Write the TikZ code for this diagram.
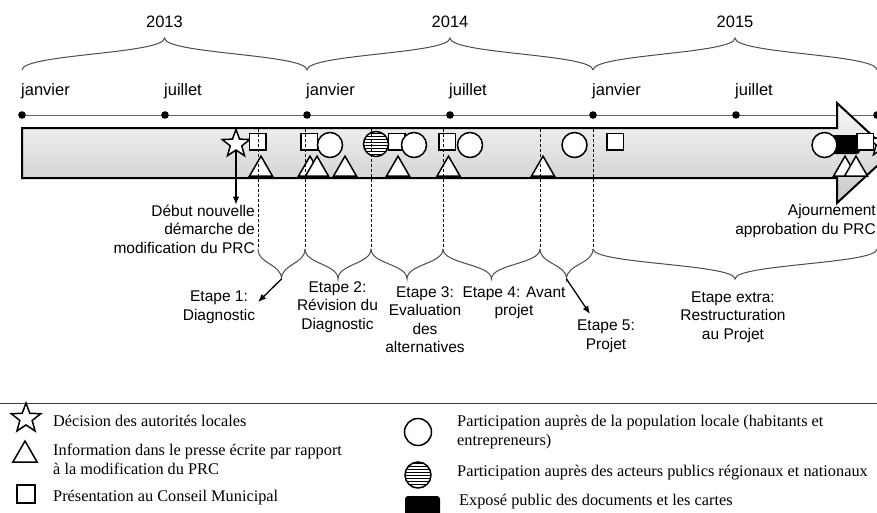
\documentclass[tikz,border=0pt]{standalone}
\usepackage{fontspec}
\setmainfont{Liberation Sans}
\newfontfamily\legendfont{Liberation Serif}
\usetikzlibrary{shapes.geometric,patterns,arrows.meta}

\tikzset{
  sym/.style={draw=black,line width=1.5pt,fill=white,inner sep=0pt},
  sq/.style={sym,rectangle,minimum size=16.5pt},
  circ/.style={sym,circle,minimum size=25pt},
  hcirc/.style={circ,fill=none,preaction={fill=white},pattern=horizontal lines},
  tri/.style={sym,regular polygon,regular polygon sides=3,minimum size=26.5pt},
  decision/.style={sym,star,star points=5,star point ratio=2.4,minimum size=29pt},
  phase/.style={dash pattern=on 3pt off 2pt,line width=1pt},
  brc/.style={draw=black!70,line width=1pt},
  lbl/.style={align=center,inner sep=0pt},
  arr/.style={-{Latex[length=8pt,width=6.5pt]},line width=1.3pt},
  leg/.style={inner sep=0pt,align=left,font=\legendfont\fontsize{16.3}{19}\selectfont},
}

\begin{document}
\begin{tikzpicture}[x=1pt,y=-1pt,font=\fontsize{15.5}{18.5}\selectfont]
\path[use as bounding box,clip] (0,0) rectangle (877,512);

% years
\foreach \a/\b/\yr in {22/307/2013,307/593/2014,593/877/2015}{
  \pgfmathsetmacro\m{(\a+\b)/2}
  \draw[brc] (\a,70) .. controls (\a,54) and (\m,54) .. (\m,38)
     .. controls (\m,54) and (\b,54) .. (\b,70);
  \node[anchor=base,inner sep=0pt,font=\fontsize{16.5}{19}\selectfont] (y\yr) at (\m,27) {\yr};
}

% months
\draw[black!60,line width=1pt] (22,115) -- (877,115);
\foreach \x/\mo [count=\i] in {22/janvier,165/juillet,307/janvier,450/juillet,593/janvier,736/juillet}{
  \fill (\x,115) circle (3.8);
  \node[anchor=base west,inner sep=0pt,font=\fontsize{16.5}{19}\selectfont] (m\i) at (\x-1,95) {\mo};
}
\fill (877,115) circle (3.8);

% bar
\draw[line width=2pt,top color=gray!5,bottom color=gray!42]
  (22,128) -- (837,128) -- (837,103) -- (891,153) -- (837,203) -- (837,178) -- (22,178) -- cycle;

% events
\node[fill=black,rounded corners=3pt,minimum width=28pt,minimum height=19pt,inner sep=0pt] (expo) at (846,144.5) {};
\node[decision] (s1) at (236,144) {};
\node[decision] (s2) at (882,143) {};
\foreach \x [count=\i] in {257.5,309,396.5,447,615,865}
  \node[sq] (c\i) at (\x,141.5) {};
\foreach \x [count=\i] in {330,414,470,574.5,824.5}
  \node[circ] (p\i) at (\x,145) {};
\node[hcirc] (h1) at (376,144) {};
\foreach \x [count=\i] in {261,310,317,345,398,448.5,543,845,856}
  \node[tri] (n\i) at (\x,169.4) {};

% phases
\foreach \x in {258,305,371,443,540,593}
  \draw[phase] (\x,129) -- (\x,249);
\foreach \a/\b [count=\i] in {258/305,305/371,371/443,443/540,540/593,593/877}{
  \pgfmathsetmacro\m{(\a+\b)/2}
  \draw[brc] (\a,249) .. controls (\a,264) and (\m,264) .. (\m,279)
     .. controls (\m,264) and (\b,264) .. (\b,249);
  \coordinate (t\i) at (\m,279);
}

\node[lbl,align=right,anchor=east] (debut) at (255,229) {Début nouvelle\\démarche de\\modification du PRC};
\node[lbl,align=right,anchor=east] (ajourn) at (876,221) {Ajournement\\approbation du PRC};
\node[lbl] (e1) at (219,307.5) {Etape 1:\\Diagnostic};
\node[lbl] (e2) at (337.5,307) {Etape 2:\\Révision du\\Diagnostic};
\node[lbl] (e3) at (425,319.5) {Etape 3:\\Evaluation\\des\\alternatives};
\node[lbl] (e4) at (514,303) {Etape 4: Avant\\projet};
\node[lbl] (e5) at (606,336.5) {Etape 5:\\Projet};
\node[lbl] (ex) at (733,317) {Etape extra:\\Restructuration\\au Projet};

\coordinate (a1) at (258,302);
\coordinate (a5) at (590,314);
\coordinate (aj) at (881,199);
\draw[arr] (s1.south) -- (s1.south |- debut.north);
\draw[arr] (s2.south) -- (aj);
\draw[arr] (t1) -- (a1);
\draw[arr] (t5) -- (a5);

% legend
\draw[black!75,line width=1pt] (0,403) -- (877,403);
\node[decision,minimum size=31pt] (ls) at (26,418.5) {};
\node[tri,minimum size=28pt] (lt) at (25,455) {};
\node[sq,minimum size=18pt] (lq) at (26,494) {};
\node[circ,minimum size=27pt] (lc) at (418,432) {};
\node[hcirc,minimum size=26pt] (lh) at (418,475) {};
\node[fill=black,rounded corners=3pt,minimum width=35pt,minimum height=24pt,inner sep=0pt] (lx) at (422.5,508) {};

\node[leg,anchor=base west] (ts) at (53,426) {Décision des autorités locales};
\node[leg,anchor=west] (tt) at (53,459.5) {Information dans le presse écrite par rapport\\à la modification du PRC};
\node[leg,anchor=base west] (tq) at (53,501) {Présentation au Conseil Municipal};
\node[leg,anchor=west] (tc) at (457,432.5) {Participation auprès de la population locale (habitants et\\entrepreneurs)};
\node[leg,anchor=base west] (th) at (457,476) {Participation auprès des acteurs publics régionaux et nationaux};
\node[leg,anchor=base west] (tx) at (459,505) {Exposé public des documents et les cartes};
\end{tikzpicture}
\end{document}
